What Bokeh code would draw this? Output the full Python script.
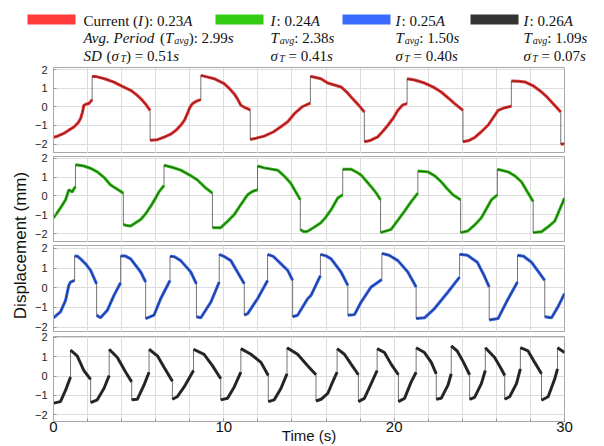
import numpy as np
from bokeh.plotting import figure
from bokeh.layouts import column, row
from bokeh.models import Range1d, FixedTicker, Label
from bokeh.embed import file_html
from bokeh.resources import INLINE
from bokeh.core.properties import value

# ---------------- data ----------------
red_t = [0.0, 0.3, 0.6, 0.9, 1.2, 1.45, 1.59, 1.7, 1.78, 1.95, 2.08, 2.2, 2.27,
         2.27, 2.57, 3.0, 3.55, 4.04, 4.53, 4.85, 5.12, 5.4, 5.67,
         5.67, 6.1, 6.5, 6.88, 7.2, 7.47, 7.7, 7.86, 8.0, 8.16, 8.4, 8.65,
         8.65, 9.0, 9.43, 10.02, 10.3, 10.6, 10.8, 11.0, 11.25, 11.55,
         11.55, 11.9, 12.37, 12.9, 13.35, 13.75, 14.14, 14.6, 15.08,
         15.08, 15.7, 16.1, 16.88, 17.2, 17.47, 17.9, 18.25,
         18.25, 18.6, 19.04, 19.35, 19.63, 19.95, 20.22, 20.5, 20.76,
         20.76, 21.2, 21.78, 22.3, 22.76, 23.2, 23.55, 24.04,
         24.04, 24.4, 24.72, 25.1, 25.51, 25.8, 26.1, 26.5, 26.88,
         26.88, 27.3, 27.67, 28.2, 28.65, 29.0, 29.24, 29.5, 29.78,
         29.78, 30.0]
red_d = [-1.64, -1.55, -1.43, -1.25, -1.08, -0.85, -0.63, -0.3, 0.08, 0.15, 0.17, 0.3, 0.38,
         1.63, 1.6, 1.5, 1.32, 1.09, 0.88, 0.66, 0.44, 0.15, -0.19,
         -1.79, -1.76, -1.62, -1.47, -1.25, -0.99, -0.7, -0.37, -0.05, 0.17, 0.3, 0.38,
         1.68, 1.6, 1.5, 1.24, 1.0, 0.7, 0.42, 0.08, -0.05, -0.17,
         -1.75, -1.68, -1.57, -1.35, -1.07, -0.8, -0.37, 0.0, 0.2,
         1.63, 1.5, 1.27, 1.06, 0.8, 0.52, 0.1, -0.28,
         -1.87, -1.8, -1.61, -1.3, -0.99, -0.6, -0.19, 0.1, 0.17,
         1.5, 1.43, 1.27, 1.05, 0.79, 0.45, 0.17, -0.19,
         -1.87, -1.8, -1.65, -1.35, -0.99, -0.6, -0.19, -0.05, 0.03,
         1.38, 1.36, 1.33, 1.1, 0.79, 0.5, 0.26, 0.0, -0.28,
         -2.0, -1.98]

green_t = [0.0, 0.2, 0.41, 0.71, 0.9, 1.0, 1.1, 1.2, 1.29,
           1.29, 1.5, 1.78, 2.2, 2.57, 3.0, 3.35, 3.75, 4.1,
           4.1, 4.3, 4.53, 5.12, 5.4, 5.7, 6.0, 6.2, 6.49,
           6.49, 7.0, 7.47, 8.0, 8.45, 8.9, 9.33,
           9.33, 9.82, 10.2, 10.61, 11.0, 11.39, 11.7, 11.98,
           11.98, 12.37, 13.16, 13.55, 13.94, 14.2, 14.49,
           14.49, 14.7, 14.92, 15.3, 15.7, 16.0, 16.3, 16.69, 16.98,
           16.98, 17.47, 17.8, 18.06, 18.35, 18.65, 18.95, 19.2,
           19.2, 19.5, 19.82, 20.2, 20.61, 21.0, 21.39,
           21.39, 21.98, 22.4, 22.76, 23.1, 23.45, 23.9,
           23.9, 24.33, 24.7, 25.12, 25.4, 25.71, 26.06,
           26.06, 26.69, 27.1, 27.47, 27.8, 28.16,
           28.16, 28.65, 29.0, 29.43, 29.7, 30.0]
green_d = [-1.15, -0.9, -0.63, -0.2, 0.32, 0.28, 0.2, 0.38, 0.49,
           1.65, 1.62, 1.58, 1.45, 1.27, 0.95, 0.58, 0.35, 0.15,
           -1.5, -1.56, -1.58, -1.24, -0.95, -0.55, -0.1, 0.23, 0.55,
           1.62, 1.5, 1.36, 1.1, 0.84, 0.45, 0.15,
           -1.67, -1.67, -1.35, -0.98, -0.45, 0.06, 0.25, 0.32,
           1.58, 1.48, 1.36, 1.05, 0.66, 0.25, -0.2,
           -1.76, -1.88, -1.86, -1.65, -1.41, -1.1, -0.72, -0.11, 0.06,
           1.41, 1.41, 1.25, 1.1, 0.8, 0.49, 0.15, -0.2,
           -1.93, -1.85, -1.76, -1.3, -0.8, -0.3, 0.15,
           1.31, 1.27, 1.05, 0.75, 0.4, 0.06, -0.2,
           -1.93, -1.84, -1.55, -1.15, -0.7, -0.2, 0.06,
           1.41, 1.27, 1.05, 0.75, 0.25, -0.29,
           -1.93, -1.88, -1.65, -1.32, -0.75, -0.11]

blue_t = [0.0, 0.41, 0.71, 0.9, 1.0, 1.24,
          1.24, 1.4, 1.59, 1.9, 2.18, 2.53,
          2.53, 2.76, 3.16, 3.55, 3.94,
          3.94, 4.2, 4.53, 5.12, 5.41,
          5.41, 5.9, 6.29, 6.84,
          6.84, 7.1, 7.47, 8.06, 8.39,
          8.39, 8.65, 9.24, 9.73,
          9.73, 10.0, 10.41, 10.8, 11.2,
          11.2, 11.4, 11.98, 12.57,
          12.57, 12.9, 13.16, 13.75, 14.04,
          14.04, 14.33, 14.92, 15.12, 15.67,
          15.67, 16.0, 16.3, 16.88, 17.28,
          17.28, 17.67, 18.06, 18.65, 19.28,
          19.28, 19.7, 20.22, 20.8, 21.29,
          21.29, 21.78, 22.37, 23.16, 23.84,
          23.84, 24.3, 24.88, 25.28, 25.58,
          25.58, 26.1, 26.59, 27.24,
          27.24, 27.6, 28.06, 28.84,
          28.84, 29.24, 29.6, 30.0]
blue_d = [-1.53, -1.23, -0.64, 0.12, 0.29, 0.37,
          1.62, 1.6, 1.47, 1.2, 0.88, 0.2,
          -1.4, -1.53, -1.15, -0.39, 0.25,
          1.62, 1.62, 1.47, 0.8, 0.29,
          -1.57, -1.4, -0.56, 0.37,
          1.6, 1.58, 1.38, 0.8, 0.2,
          -1.48, -1.53, -0.73, 0.29,
          1.7, 1.6, 1.38, 0.8, 0.2,
          -1.4, -1.32, -0.56, 0.37,
          1.7, 1.6, 1.38, 0.88, 0.37,
          -1.48, -1.4, -0.56, -0.39, 0.62,
          1.7, 1.62, 1.47, 0.8, 0.12,
          -1.4, -1.37, -0.73, 0.04, 0.42,
          1.75, 1.65, 1.38, 0.8, 0.04,
          -1.57, -1.53, -1.06, -0.22, 0.54,
          1.7, 1.65, 1.3, 0.62, 0.04,
          -1.64, -1.57, -0.73, 0.29,
          1.65, 1.6, 1.3, 0.37,
          -1.48, -1.53, -1.0, -0.3]

black_t = [0.0, 0.41, 0.71, 1.0,
           1.0, 1.39, 1.78, 2.18,
           2.18, 2.57, 2.96, 3.27,
           3.27, 3.75, 4.24, 4.59,
           4.59, 4.92, 5.31, 5.61,
           5.61, 6.1, 6.49, 6.98,
           6.98, 7.26, 7.67, 8.22,
           8.22, 8.84, 9.33, 9.82,
           9.82, 10.22, 10.61, 11.0,
           11.0, 11.59, 12.18, 12.61,
           12.61, 12.96, 13.35, 13.71,
           13.71, 14.33, 14.92, 15.41,
           15.41, 15.71, 16.1, 16.39, 16.65,
           16.65, 17.08, 17.47, 17.9,
           17.9, 18.25, 18.65, 19.0,
           19.0, 19.43, 19.82, 20.25,
           20.25, 20.61, 21.0, 21.29,
           21.29, 21.78, 22.18, 22.47,
           22.47, 22.76, 23.16, 23.35,
           23.35, 23.7, 24.05, 24.43,
           24.43, 24.72, 25.12, 25.35,
           25.35, 25.9, 26.29, 26.49,
           26.49, 26.78, 27.18, 27.41,
           27.41, 27.86, 28.25, 28.65,
           28.65, 29.04, 29.43, 29.59,
           29.59, 30.0]
black_d = [-1.4, -1.32, -0.73, -0.05,
           1.35, 1.05, 0.29, -0.17,
           -1.37, -1.23, -0.64, 0.03,
           1.39, 0.96, 0.2, -0.3,
           -1.23, -1.2, -0.47, 0.2,
           1.39, 1.05, 0.46, -0.27,
           -1.2, -1.07, -0.56, 0.29,
           1.39, 1.13, 0.54, -0.14,
           -1.23, -1.15, -0.56, 0.2,
           1.42, 1.13, 0.71, 0.03,
           -1.32, -1.23, -0.64, 0.12,
           1.47, 1.13, 0.54, 0.07,
           -1.29, -1.2, -0.9, -0.3, 0.2,
           1.42, 1.13, 0.62, 0.07,
           -1.32, -1.15, -0.39, 0.29,
           1.42, 1.22, 0.62, 0.07,
           -1.32, -1.15, -0.3, 0.2,
           1.47, 1.22, 0.71, 0.12,
           -1.2, -1.15, -0.47, 0.12,
           1.56, 1.3, 0.75, 0.07,
           -1.2, -1.1, -0.39, 0.29,
           1.47, 0.96, 0.37, 0.03,
           -1.2, -1.07, -0.39, 0.37,
           1.47, 1.3, 0.71, 0.12,
           -1.25, -1.07, -0.14, 0.37,
           1.47, 1.22]

currents = [0.23, 0.24, 0.25, 0.26]
t_avg = [2.99, 2.38, 1.50, 1.09]
sd_t = [0.51, 0.41, 0.40, 0.07]

x_labeled_ticks = [0, 10, 20, 30]
x_grid_ticks = list(range(0, 31, 2))
y_ticks = [-2, -1, 0, 1, 2]

swatch_colors = ["#ff3b3b", "#33cc11", "#3a6bff", "#333333"]
trace_colors = ["#e83030", "#2db812", "#2f5fe8", "#2a2a2a"]

SANS = "Liberation Sans"
SERIF = "Liberation Serif"

# ---------------- legend (rich text laid out in pixels) ----------------
W_RG = {' ': 250, '(': 333, ')': 333, ':': 278, '.': 250, '=': 564, 'A': 722,
        'C': 667, 'u': 500, 'r': 333, 'e': 444, 'n': 500, 't': 278, 's': 389}
W_IT = {'A': 611, 'I': 333, 'T': 556, 's': 389, 'a': 500, 'v': 444, 'g': 500,
        '.': 250, ' ': 250, 'P': 611, 'e': 444, 'r': 389, 'i': 278, 'o': 500,
        'd': 500, 'S': 500, 'D': 722, 'σ': 520}

def layout_line(x0, y0, segs, out):
    x = x0
    for txt, kind in segs:
        size = 10 if kind == "sub" else 15
        table = W_RG if kind == "rg" else W_IT
        wid = lambda s: sum(table.get(c, 500) for c in s) / 1000.0 * size
        lead = len(txt) - len(txt.lstrip(" "))
        core = txt.strip(" ")
        x += wid(" " * lead)
        yy = y0 - 3 if kind == "sub" else y0
        out[kind]["x"].append(x)
        out[kind]["y"].append(yy)
        out[kind]["text"].append(core)
        x += wid(txt) - wid(" " * lead) + (1 if kind == "it" else 0)

LEG_W, LEG_H = 604, 65
leg = figure(width=LEG_W, height=LEG_H, x_range=Range1d(0, LEG_W), y_range=Range1d(0, LEG_H),
             title=None, x_axis_location=None, y_axis_location=None, min_border=0,
             toolbar_location=None, output_backend="svg", outline_line_color=None,
             border_fill_color=None, background_fill_color=None)
leg.grid.visible = False

sw_left = [27, 215, 342, 470]
txt_left = [83, 270, 395, 523]
base = [45, 28, 10]
leg.quad(left=sw_left, right=[v + 48 for v in sw_left], bottom=[41] * 4, top=[51] * 4,
         color=swatch_colors, line_color=None)

segs_out = {k: {"x": [], "y": [], "text": []} for k in ("rg", "it", "sub")}
for i in range(4):
    c, ta, s = currents[i], t_avg[i], sd_t[i]
    if i == 0:
        l1 = [("Current (", "rg"), ("I", "it"), (f"): {c:.2f}", "rg"), ("A", "it")]
        l2 = [("Avg. Period", "it"), (" (", "rg"), ("T", "it"), ("avg", "sub"),
              (f"): {ta:.2f}", "rg"), ("s", "it")]
        l3 = [("SD", "it"), (" (", "rg"), ("σ", "it"), ("T", "sub"),
              (f") = {s:.2f}", "rg"), ("s", "it")]
    else:
        l1 = [("I", "it"), (f": {c:.2f}", "rg"), ("A", "it")]
        l2 = [("T", "it"), ("avg", "sub"), (f": {ta:.2f}", "rg"), ("s", "it")]
        l3 = [("σ", "it"), ("T", "sub"), (f" = {s:.2f}", "rg"), ("s", "it")]
    for line, yb in zip((l1, l2, l3), base):
        layout_line(txt_left[i], yb, line, segs_out)

for kind, style, size in (("rg", "normal", "15px"), ("it", "italic", "15px"), ("sub", "italic", "10px")):
    d = segs_out[kind]
    leg.text(x=d["x"], y=d["y"], text=d["text"], text_font=value(SERIF),
             text_font_size=size, text_font_style=style, text_baseline="alphabetic",
             text_align="left", text_color="#111111")

# ---------------- panels ----------------
def broken(ts, ds):
    xs, ys = [], []
    for i, (t, d) in enumerate(zip(ts, ds)):
        if i > 0 and t == ts[i - 1]:
            xs.append(np.nan)
            ys.append(np.nan)
        xs.append(t)
        ys.append(d)
    return xs, ys

YLAB_W = 31
PANEL_W = 604 - YLAB_W

def panel(ts, ds, color, yr, frame_h, top, bottom, last=False):
    p = figure(width=PANEL_W, height=top + frame_h + bottom,
               x_range=Range1d(0, 30), y_range=Range1d(*yr), title=None,
               x_axis_location="below" if last else None, y_axis_location="left",
               min_border_left=18, min_border_right=40, min_border_top=top,
               min_border_bottom=bottom, toolbar_location=None, output_backend="svg",
               border_fill_color=None, background_fill_color="white",
               outline_line_color="#a8a8a8")
    p.xgrid.ticker = FixedTicker(ticks=x_grid_ticks)
    p.ygrid.ticker = FixedTicker(ticks=y_ticks)
    p.grid.grid_line_color = "#dddddd"
    p.grid.grid_line_width = 1
    ya = p.yaxis[0]
    ya.ticker = FixedTicker(ticks=y_ticks)
    ya.major_label_text_font = SANS
    ya.major_label_text_font_size = "11px"
    ya.major_label_text_color = "#222222"
    ya.major_label_standoff = 6
    ya.major_tick_in = 3
    ya.major_tick_out = 0
    ya.minor_tick_line_color = None
    ya.major_tick_line_color = "#999999"
    ya.axis_line_color = "#a8a8a8"
    if last:
        xa = p.xaxis[0]
        xa.ticker = FixedTicker(ticks=x_labeled_ticks, minor_ticks=x_grid_ticks)
        xa.major_label_text_font = SANS
        xa.major_label_text_font_size = "15px"
        xa.major_label_text_color = "#111111"
        xa.major_label_standoff = 0
        xa.major_tick_in = 3
        xa.major_tick_out = 0
        xa.minor_tick_in = 3
        xa.minor_tick_out = 0
        xa.major_tick_line_color = "#999999"
        xa.minor_tick_line_color = "#999999"
        xa.axis_line_color = "#a8a8a8"
        xa.axis_label = "Time (s)"
        xa.axis_label_text_font = SANS
        xa.axis_label_text_font_size = "15px"
        xa.axis_label_text_font_style = "normal"
        xa.axis_label_text_color = "#111111"
        xa.axis_label_standoff = -8
    bx, by = broken(ts, ds)
    p.line(bx, by, line_color=color, line_width=3.0)
    p.line(ts, ds, line_color="#1a1a1a", line_width=0.8, line_alpha=0.75)
    return p

p1 = panel(red_t, red_d, trace_colors[0], (-2.5, 2.1), 86, 2, 0)
p2 = panel(green_t, green_d, trace_colors[1], (-2.45, 2.08), 86, 3, 0)
p3 = panel(blue_t, blue_d, trace_colors[2], (-2.28, 2.15), 87, 3, 0)
p4 = panel(black_t, black_d, trace_colors[3], (-2.35, 2.05), 85, 4, 25, last=True)

# y label strip
ylab = figure(width=YLAB_W, height=381, x_range=Range1d(0, 1), y_range=Range1d(0, 1),
              title=None, x_axis_location=None, y_axis_location=None, min_border=0,
              toolbar_location=None, output_backend="svg", outline_line_color=None,
              border_fill_color=None, background_fill_color=None)
ylab.grid.visible = False
ylab.add_layout(Label(x=20, y=201, x_units="screen", y_units="screen",
                      text="Displacement (mm)", angle=np.pi / 2, text_align="center",
                      text_baseline="middle", text_font=SANS, text_font_size="17px",
                      text_color="#111111"))

layout = column(leg, row(ylab, column(p1, p2, p3, p4)))

with open("out.html", "w") as f:
    f.write(file_html(layout, INLINE))
